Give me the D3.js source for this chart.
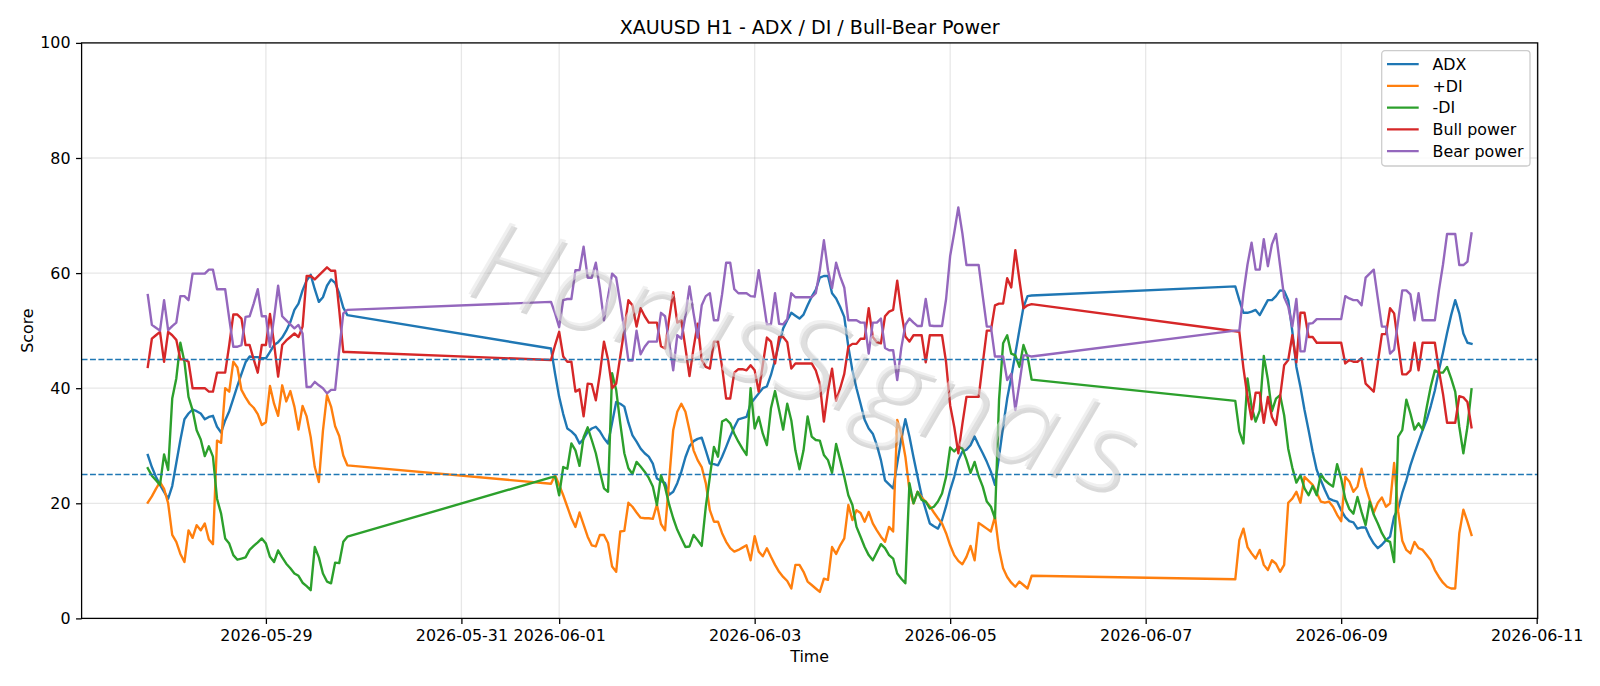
<!DOCTYPE html>
<html>
<head>
<meta charset="utf-8">
<script src="https://cdn.jsdelivr.net/npm/d3@7"></script>
<style>
  body { margin: 0; background: #fff; }
  svg text { font-family: "DejaVu Sans", sans-serif; }
</style>
</head>
<body>
<svg id="chart" width="1600" height="686"></svg>
<script>
// hourly sessions (UTC): week 1 tail, full week, week 3 head
const sessionStarts = ['2026-05-27T19:00:00Z', '2026-05-31T22:00:00Z', '2026-06-07T22:00:00Z'];
const sessionHours = [50, 119, 59];

const adx = [
  28.4, 26.3, 24.6, 23.2, 22.0, 20.8, 23.0, 27.0, 31.0, 34.6,
  35.6, 36.3, 36.0, 35.6, 34.6, 35.0, 35.2, 33.3, 32.3, 34.4,
  36.0, 38.2, 40.4, 42.5, 44.5, 45.5, 45.4, 45.4, 45.2, 45.2,
  46.3, 47.5, 48.0, 48.8, 50.0, 51.5, 53.6, 54.7, 57.0, 58.7,
  59.7, 57.2, 55.0, 55.8, 57.8, 58.9, 58.3, 56.5, 54.0, 52.7,

  46.9, 42.5, 38.5, 35.5, 33.0, 32.5, 31.8, 30.4, 31.2, 32.4,
  33.0, 33.3, 32.5, 31.3, 30.4, 34.0, 37.6, 37.3, 36.8, 34.0,
  31.8, 30.7, 29.5, 28.7, 28.1, 26.9, 24.3, 23.9, 23.5, 21.5,
  22.0, 23.5, 25.5, 28.0, 29.9, 30.8, 31.2, 31.4, 29.2, 26.9,
  26.8, 26.6, 28.1, 29.8, 31.6, 33.2, 34.6, 34.8, 35.0, 37.3,
  38.2, 39.1, 40.0, 40.3, 42.3, 44.9, 47.8, 50.4, 51.8, 53.1,
  52.6, 52.1, 52.8, 54.4, 55.9, 57.1, 59.2, 59.5, 59.5, 56.5,
  55.6, 54.1, 52.4, 47.2, 43.1, 40.0, 37.3, 34.5, 33.0, 32.1,
  30.1, 27.5, 24.0, 23.3, 22.6, 26.9, 31.2, 34.6, 31.6, 28.0,
  24.6, 21.3, 18.9, 16.5, 16.0, 15.6, 17.1, 19.5, 22.3, 24.6,
  27.5, 29.0, 29.3, 30.1, 31.6, 30.1, 28.7, 27.2, 25.5, 23.2,
  28.1, 33.3, 38.2, 41.9, 46.0, 50.1, 54.1, 56.0, 56.1,

  57.7, 55.3, 53.1, 53.1, 53.3, 53.6, 52.7, 54.0, 55.3, 55.3,
  56.0, 57.0, 56.9, 55.3, 49.9, 43.7, 40.2, 36.2, 32.7, 29.0,
  25.8, 24.0, 22.3, 20.8, 20.5, 20.3, 18.8, 17.6, 16.9, 16.7,
  15.6, 15.8, 15.8, 14.2, 13.0, 12.2, 12.8, 13.6, 14.2, 17.7,
  19.1, 21.8, 24.0, 26.6, 28.7, 30.7, 32.7, 34.5, 36.9, 39.6,
  43.1, 46.2, 49.6, 52.7, 55.3, 53.0, 49.5, 47.9, 47.7
];

const plusDI = [
  20.1, 21.2, 22.5, 23.7, 22.5, 20.0, 14.5, 13.3, 11.2, 9.8,
  15.3, 14.0, 16.2, 15.3, 16.5, 13.7, 12.9, 30.9, 30.5, 40.0,
  39.4, 44.6, 43.6, 39.7, 38.4, 37.3, 36.6, 35.5, 33.6, 34.1,
  40.4, 37.3, 35.2, 40.5, 37.7, 39.5, 36.8, 32.8, 36.9, 35.1,
  31.5, 26.3, 23.7, 32.6, 38.8, 36.8, 33.4, 31.7, 28.3, 26.6,

  23.4, 24.9, 23.2, 21.4, 19.4, 17.4, 15.9, 18.4, 16.3, 14.2,
  12.7, 12.5, 14.5, 14.5, 13.1, 9.0, 8.1, 15.1, 15.2, 20.1,
  19.4, 18.4, 17.5, 17.4, 17.4, 17.3, 19.8, 16.4, 15.3, 24.0,
  32.7, 35.9, 37.3, 35.9, 32.7, 29.2, 27.5, 26.3, 23.5, 18.8,
  16.8, 16.8, 14.8, 13.3, 12.2, 11.6, 11.9, 12.3, 12.7, 10.1,
  14.3, 11.6, 10.8, 12.2, 10.7, 9.3, 8.1, 7.2, 6.5, 5.2,
  9.3, 9.3, 8.1, 6.4, 5.8, 5.2, 4.6, 6.9, 6.7, 12.4,
  11.2, 12.7, 13.9, 19.7, 17.1, 18.8, 18.3, 16.8, 18.5, 16.5,
  15.3, 14.2, 13.3, 15.9, 15.1, 34.5, 32.1, 28.1, 22.3, 20.0,
  22.0, 21.0, 20.3, 19.5, 18.4, 17.4, 16.5, 14.8, 12.7, 11.0,
  10.0, 9.4, 10.7, 12.6, 10.1, 16.6, 16.1, 15.6, 15.1, 17.7,
  12.0, 8.7, 7.2, 6.2, 5.5, 6.4, 5.8, 5.2, 7.4,

  6.8, 13.6, 15.6, 12.4, 11.3, 10.4, 11.9, 9.3, 8.4, 10.1,
  9.5, 8.1, 9.3, 20.1, 20.8, 22.0, 20.1, 24.6, 23.9, 23.2,
  21.8, 20.3, 20.1, 20.3, 19.4, 18.0, 16.9, 24.6, 23.8, 22.0,
  22.9, 26.0, 22.9, 20.6, 18.4, 20.1, 21.0, 19.4, 20.0, 27.0,
  18.5, 13.5, 11.9, 11.3, 13.3, 12.2, 11.9, 11.0, 10.1, 8.4,
  7.2, 6.2, 5.5, 5.2, 5.2, 14.8, 18.9, 16.8, 14.5
];

const minusDI = [
  26.1, 24.8, 24.0, 23.2, 28.5, 25.8, 38.2, 41.7, 47.9, 44.6,
  38.5, 36.2, 32.7, 31.1, 28.2, 29.9, 28.1, 20.8, 18.2, 13.9,
  13.0, 11.0, 10.2, 10.4, 10.6, 11.9, 12.6, 13.2, 13.9, 13.0,
  10.7, 9.8, 11.8, 10.6, 9.5, 8.7, 7.8, 7.4, 6.2, 5.6,
  4.9, 12.4, 10.6, 7.8, 6.4, 6.1, 9.7, 9.6, 13.3, 14.2,

  24.5, 24.6, 21.4, 26.3, 26.0, 30.4, 29.2, 26.5, 31.5, 33.2,
  31.0, 28.7, 25.5, 22.6, 22.0, 42.6, 39.7, 33.9, 28.7, 26.1,
  25.1, 27.2, 26.4, 25.5, 24.4, 22.9, 19.7, 24.9, 22.8, 19.8,
  17.4, 15.4, 13.9, 12.4, 12.5, 14.5, 13.6, 12.6, 19.4, 24.6,
  29.8, 28.1, 34.2, 34.6, 33.9, 32.1, 30.7, 29.5, 28.4, 40.0,
  33.0, 35.0, 32.1, 30.1, 36.5, 39.5, 36.2, 32.8, 37.3, 34.4,
  29.2, 25.9, 29.2, 35.1, 31.6, 31.0, 30.9, 28.4, 27.5, 25.3,
  30.3, 27.5, 24.6, 21.4, 19.7, 15.9, 14.2, 12.4, 11.0, 10.1,
  11.5, 12.9, 12.2, 11.0, 10.4, 7.8, 6.9, 6.1, 23.5, 20.0,
  22.0, 20.6, 20.3, 19.1, 19.4, 20.3, 21.7, 24.6, 29.7, 29.0,
  29.8, 29.5, 27.6, 25.3, 27.2, 24.7, 22.9, 20.3, 19.4, 17.4,
  38.0, 47.8, 49.2, 46.0, 45.7, 43.7, 47.5, 45.5, 41.5,

  37.8, 32.5, 30.4, 41.7, 36.8, 34.2, 36.1, 45.6, 41.5, 36.0,
  38.2, 38.8, 35.3, 29.5, 26.2, 23.6, 24.9, 22.6, 21.4, 23.0,
  21.4, 25.1, 24.0, 23.4, 22.9, 26.8, 24.3, 20.8, 19.0, 18.2,
  21.1, 18.5, 16.2, 20.3, 18.0, 16.5, 14.8, 13.6, 13.3, 9.8,
  31.6, 32.7, 38.0, 35.6, 32.8, 33.9, 32.8, 36.7, 40.3, 43.1,
  42.7, 42.7, 43.7, 41.7, 39.4, 33.3, 28.7, 33.3, 39.8
];

const bullPower = [
  43.7, 48.6, 49.2, 49.8, 44.6, 49.8, 49.2, 48.4, 45.0, 45.0,
  44.6, 40.0, 40.0, 40.0, 40.0, 39.4, 39.4, 42.7, 42.7, 42.7,
  47.5, 52.8, 52.8, 52.1, 47.5, 47.5, 45.0, 42.7, 47.5, 47.5,
  52.9, 47.8, 42.0, 47.5, 48.3, 48.9, 49.5, 48.9, 50.7, 59.5,
  59.5, 58.9, 59.6, 60.3, 61.0, 60.4, 60.4, 53.6, 46.3, 46.3,

  44.9, 47.5, 49.8, 45.5, 44.6, 44.6, 39.4, 39.8, 35.1, 40.8,
  40.7, 37.9, 42.5, 48.1, 45.0, 40.0, 40.8, 45.5, 50.2, 55.3,
  54.4, 50.7, 53.9, 52.5, 51.4, 51.4, 51.4, 47.3, 46.9, 52.0,
  56.7, 51.4, 51.8, 47.0, 42.1, 47.0, 51.2, 44.9, 43.7, 43.4,
  48.1, 48.1, 43.7, 38.2, 38.2, 42.7, 43.3, 43.3, 43.1, 44.0,
  43.1, 39.4, 44.1, 48.8, 48.1, 44.3, 48.9, 48.9, 48.0, 43.4,
  44.3, 44.3, 44.3, 44.3, 44.3, 43.1, 40.8, 34.2, 39.5, 43.4,
  37.8, 40.0, 42.5, 47.2, 47.7, 47.7, 48.6, 48.6, 53.9, 48.9,
  48.0, 47.8, 52.5, 53.3, 53.6, 58.7, 53.3, 49.0, 48.1, 49.2,
  49.2, 49.2, 44.5, 49.2, 49.2, 49.2, 49.2, 44.5, 37.0, 33.3,
  28.7, 33.8, 38.5, 38.5, 38.5, 38.5, 44.3, 50.0, 50.0, 54.4,
  54.7, 54.7, 59.1, 57.5, 64.0, 58.8, 53.9, 54.4, 54.6,

  49.9, 49.8, 43.5, 38.5, 34.6, 39.2, 39.2, 34.0, 38.5, 35.0,
  33.6, 38.5, 44.0, 44.9, 49.2, 44.5, 53.1, 53.1, 48.9, 48.9,
  47.9, 47.9, 47.9, 47.9, 47.9, 47.9, 47.9, 44.3, 44.9, 44.6,
  44.6, 45.2, 40.8, 40.1, 39.4, 44.5, 49.4, 49.4, 53.9, 53.0,
  47.6, 42.4, 42.4, 43.1, 47.9, 43.1, 47.9, 47.9, 47.9, 47.9,
  43.1, 39.0, 34.0, 34.0, 34.0, 38.6, 38.4, 37.6, 33.2
];

const bearPower = [
  56.2, 51.0, 50.5, 50.0, 55.3, 50.1, 50.8, 51.4, 56.0, 56.0,
  55.3, 59.9, 59.9, 59.9, 59.9, 60.6, 60.6, 57.2, 57.2, 57.2,
  52.1, 47.2, 47.2, 47.5, 52.4, 52.5, 54.7, 57.2, 52.5, 52.5,
  47.2, 52.2, 57.8, 52.5, 51.8, 51.1, 50.4, 51.0, 49.5, 40.2,
  40.2, 41.1, 40.5, 40.0, 39.1, 39.7, 39.7, 46.6, 53.0, 53.6,

  55.0, 53.0, 50.6, 55.3, 55.5, 55.5, 60.5, 60.5, 64.6, 59.2,
  59.2, 61.8, 57.3, 51.8, 55.9, 59.9, 59.2, 54.8, 50.1, 44.8,
  44.8, 50.0, 45.9, 47.2, 48.1, 48.1, 48.1, 53.1, 52.5, 48.0,
  43.1, 49.2, 48.6, 52.6, 57.7, 53.0, 48.8, 54.4, 56.0, 56.5,
  51.8, 51.8, 56.3, 61.8, 61.8, 57.2, 56.5, 56.5, 56.5, 56.0,
  55.9, 60.5, 55.9, 51.1, 51.1, 56.5, 51.2, 51.1, 52.0, 56.5,
  55.8, 55.8, 55.8, 55.8, 55.8, 56.5, 60.5, 65.7, 60.5, 57.4,
  61.8, 59.4, 57.5, 51.8, 51.8, 51.8, 51.4, 51.4, 46.0, 51.4,
  51.4, 52.1, 47.0, 46.6, 46.6, 41.4, 47.0, 51.0, 52.1, 51.4,
  50.8, 50.8, 55.5, 50.9, 50.8, 50.8, 50.8, 55.5, 63.0, 67.0,
  71.4, 66.9, 61.4, 61.4, 61.4, 61.4, 56.0, 50.7, 50.7, 45.5,
  45.5, 45.5, 41.4, 42.5, 36.2, 40.8, 45.7, 45.7, 45.5,

  50.0, 50.0, 56.5, 61.5, 65.3, 60.6, 60.6, 65.9, 61.2, 65.0,
  66.8, 61.3, 55.8, 54.2, 50.7, 55.5, 46.4, 46.4, 51.2, 51.3,
  52.0, 52.0, 52.0, 52.0, 52.0, 52.0, 52.0, 56.0, 55.6, 55.3,
  55.3, 54.4, 59.2, 59.9, 60.6, 55.6, 50.7, 50.7, 46.0, 46.7,
  51.8, 57.0, 57.0, 56.3, 51.8, 56.5, 51.8, 51.8, 51.8, 51.8,
  57.0, 61.5, 66.8, 66.8, 66.8, 61.4, 61.4, 62.0, 66.9
];

const seriesNames = ['ADX', '+DI', '-DI', 'Bull power', 'Bear power'];
const seriesColors = ['#1f77b4', '#ff7f0e', '#2ca02c', '#d62728', '#9467bd'];
const refLevels = [45, 25];
const yTicks = [0, 20, 40, 60, 80, 100];
const xTickLabels = ['2026-05-29', '2026-05-31', '2026-06-01', '2026-06-03',
  '2026-06-05', '2026-06-07', '2026-06-09', '2026-06-11'];

// build hourly timestamps
const times = [];
sessionStarts.forEach((s, i) => {
  const t0 = Date.parse(s);
  for (let h = 0; h < sessionHours[i]; h++) times.push(new Date(t0 + h * 3600e3));
});

const series = [adx, plusDI, minusDI, bullPower, bearPower].map((vals, i) => ({
  name: seriesNames[i],
  color: seriesColors[i],
  points: vals.map((v, j) => ({ t: times[j], v: v }))
}));

const W = 1600, H = 686;
const m = { left: 81.6, right: 62.3, top: 42.9, bottom: 67.6 };
const svg = d3.select('#chart');
svg.append('rect').attr('width', W).attr('height', H).attr('fill', '#fff');

const ext = d3.extent(times);
const pad = (ext[1] - ext[0]) * 0.05;
const x = d3.scaleUtc()
  .domain([new Date(+ext[0] - pad), new Date(+ext[1] + pad)])
  .range([m.left, W - m.right]);
const y = d3.scaleLinear().domain([0, 100]).range([H - m.bottom, m.top]);

const tickDates = xTickLabels.map(s => new Date(s + 'T00:00:00Z'));

// grid
const grid = svg.append('g');
grid.selectAll('.gx').data(tickDates).join('line')
  .attr('x1', d => x(d)).attr('x2', d => x(d))
  .attr('y1', y(0)).attr('y2', y(100))
  .style('stroke', '#b0b0b0').style('stroke-opacity', 0.3).style('stroke-width', 1.27);
grid.selectAll('.gy').data(yTicks).join('line')
  .attr('x1', m.left).attr('x2', W - m.right)
  .attr('y1', d => y(d)).attr('y2', d => y(d))
  .style('stroke', '#b0b0b0').style('stroke-opacity', 0.3).style('stroke-width', 1.27);

// series lines
const line = d3.line().x(d => x(d.t)).y(d => y(d.v));
svg.append('g').selectAll('path').data(series).join('path')
  .attr('d', d => line(d.points))
  .style('fill', 'none')
  .style('stroke', d => d.color)
  .style('stroke-width', 2.38)
  .style('stroke-linejoin', 'round')
  .style('stroke-linecap', 'square');

// reference levels
svg.append('g').selectAll('line').data(refLevels).join('line')
  .attr('x1', m.left).attr('x2', W - m.right)
  .attr('y1', d => y(d)).attr('y2', d => y(d))
  .style('stroke', '#1f77b4')
  .style('stroke-width', 1.59)
  .style('stroke-dasharray', '5.9,2.5');

// axes
const fs = 15.87;
const xAxis = svg.append('g')
  .attr('transform', `translate(0,${y(0)})`)
  .call(d3.axisBottom(x).tickValues(tickDates)
    .tickFormat(d3.utcFormat('%Y-%m-%d')).tickSize(5.56).tickPadding(5.56));
const yAxis = svg.append('g')
  .attr('transform', `translate(${m.left},0)`)
  .call(d3.axisLeft(y).tickValues(yTicks).tickSize(5.56).tickPadding(5.56));
[xAxis, yAxis].forEach(a => {
  a.select('.domain').remove();
  a.selectAll('.tick line').style('stroke', '#000').style('stroke-width', 1.27);
  a.selectAll('.tick text').style('font-size', fs + 'px')
    .style('font-family', '"DejaVu Sans", sans-serif').attr('fill', '#000');
});

// spines
svg.append('rect')
  .attr('x', m.left).attr('y', m.top)
  .attr('width', W - m.left - m.right).attr('height', H - m.top - m.bottom)
  .style('fill', 'none').style('stroke', '#000').style('stroke-width', 1.27);

// watermark (thin script-like, light grey with soft shadow)
const wm = svg.append('g')
  .attr('transform', 'translate(463,292) rotate(17.2)');
wm.append('text')
  .attr('x', 2.5).attr('y', 2.5)
  .attr('textLength', 690).attr('lengthAdjust', 'spacingAndGlyphs')
  .style('font-family', '"Open Sans", sans-serif')
  .style('font-size', '112px').style('font-style', 'italic').style('font-weight', 300)
  .style('fill', '#666').style('fill-opacity', 0.25)
  .text('HorusSignals');
wm.append('text')
  .attr('textLength', 690).attr('lengthAdjust', 'spacingAndGlyphs')
  .style('font-family', '"Open Sans", sans-serif')
  .style('font-size', '112px').style('font-style', 'italic').style('font-weight', 300)
  .style('fill', '#e4e4e4').style('fill-opacity', 0.55)
  .text('HorusSignals');

// titles
svg.append('text')
  .attr('x', (m.left + W - m.right) / 2).attr('y', 33.5)
  .attr('text-anchor', 'middle')
  .style('font-size', '19.05px')
  .text('XAUUSD H1 - ADX / DI / Bull-Bear Power');
svg.append('text')
  .attr('x', (m.left + W - m.right) / 2).attr('y', 661.5)
  .attr('text-anchor', 'middle')
  .style('font-size', fs + 'px')
  .text('Time');
svg.append('text')
  .attr('transform', `translate(27,${(m.top + H - m.bottom) / 2}) rotate(-90)`)
  .attr('text-anchor', 'middle')
  .attr('dy', '0.35em')
  .style('font-size', fs + 'px')
  .text('Score');

// legend
const lg = svg.append('g').attr('transform', 'translate(1381.7,50.7)');
lg.append('rect')
  .attr('width', 148.3).attr('height', 115.3).attr('rx', 3.2)
  .style('fill', '#fff').style('fill-opacity', 0.8)
  .style('stroke', '#cccccc').style('stroke-width', 1.27);
const items = lg.selectAll('.item').data(series).join('g')
  .attr('transform', (d, i) => `translate(0,${13.4 + i * 21.75})`);
items.append('line')
  .attr('x1', 5.3).attr('x2', 37).attr('y1', 0).attr('y2', 0)
  .style('stroke', d => d.color).style('stroke-width', 2.38);
items.append('text')
  .attr('x', 50.8).attr('dy', '0.36em')
  .style('font-size', fs + 'px')
  .text(d => d.name);
</script>
</body>
</html>
